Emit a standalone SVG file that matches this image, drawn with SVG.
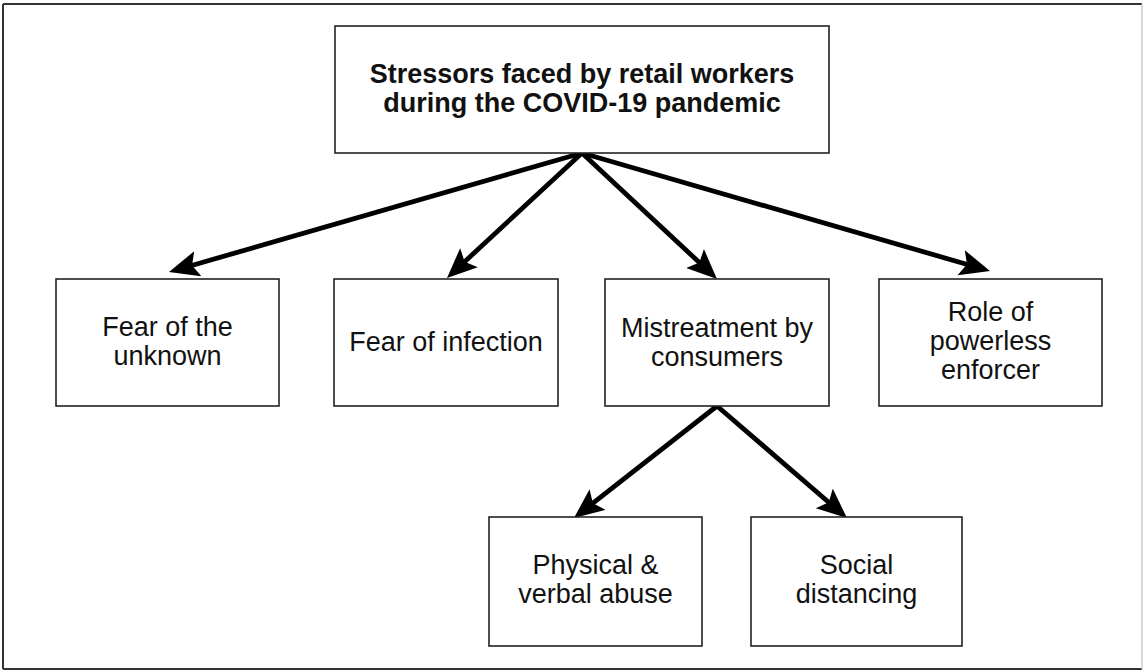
<svg xmlns="http://www.w3.org/2000/svg" width="1144" height="671" viewBox="0 0 1144 671">
  <style>
    .box { fill: #ffffff; stroke: #222222; stroke-width: 1.6; }
    .lbl { font-family: "Liberation Sans", Arial, Helvetica, sans-serif; font-size: 27px; fill: #111111; text-anchor: middle; }
    .title { font-weight: bold; }
    .conn { stroke: #000000; stroke-width: 4.8; fill: none; marker-end: url(#ah); }
  </style>
  <defs>
    <marker id="ah" markerUnits="userSpaceOnUse" markerWidth="32" markerHeight="28" refX="18" refY="13" orient="auto">
      <path d="M0,0 L30,13 L0,26 L6,13 Z" fill="#000000"/>
    </marker>
  </defs>
  <rect x="0" y="0" width="1144" height="671" fill="#ffffff"/>
  <g id="frame">
    <line x1="3" y1="4" x2="1142" y2="4" stroke="#333333" stroke-width="2"/>
    <line x1="3" y1="4" x2="3" y2="669" stroke="#333333" stroke-width="2"/>
    <line x1="3" y1="669" x2="1142" y2="669" stroke="#333333" stroke-width="2"/>
    <line x1="1142" y1="4" x2="1142" y2="669" stroke="#cccccc" stroke-width="1.5"/>
  </g>
  <g id="connectors">
    <line class="conn" x1="582" y1="153" x2="180.5" y2="268.7"/>
    <line class="conn" x1="582" y1="153" x2="455.8" y2="269.9"/>
    <line class="conn" x1="582" y1="153" x2="708.2" y2="270.8"/>
    <line class="conn" x1="582" y1="153" x2="978.5" y2="267.7"/>
    <line class="conn" x1="717" y1="406" x2="583.4" y2="510.6"/>
    <line class="conn" x1="717" y1="406" x2="837.9" y2="510.2"/>
  </g>
  <g id="node-root">
    <rect class="box" x="335" y="26" width="494" height="127"/>
    <text class="lbl title" x="582" y="83">Stressors faced by retail workers</text>
    <text class="lbl title" x="582" y="112">during the COVID-19 pandemic</text>
  </g>
  <g id="node-unknown">
    <rect class="box" x="56" y="279" width="223" height="127"/>
    <text class="lbl" x="167.5" y="336">Fear of the</text>
    <text class="lbl" x="167.5" y="365">unknown</text>
  </g>
  <g id="node-infection">
    <rect class="box" x="334" y="279" width="224" height="127"/>
    <text class="lbl" x="446" y="351">Fear of infection</text>
  </g>
  <g id="node-mistreatment">
    <rect class="box" x="605" y="279" width="224" height="127"/>
    <text class="lbl" x="717" y="337">Mistreatment by</text>
    <text class="lbl" x="717" y="366">consumers</text>
  </g>
  <g id="node-enforcer">
    <rect class="box" x="879" y="279" width="223" height="127"/>
    <text class="lbl" x="990.5" y="321">Role of</text>
    <text class="lbl" x="990.5" y="350">powerless</text>
    <text class="lbl" x="990.5" y="379">enforcer</text>
  </g>
  <g id="node-abuse">
    <rect class="box" x="489" y="517" width="213" height="129"/>
    <text class="lbl" x="595.5" y="574">Physical &amp;</text>
    <text class="lbl" x="595.5" y="603">verbal abuse</text>
  </g>
  <g id="node-distancing">
    <rect class="box" x="751" y="517" width="211" height="129"/>
    <text class="lbl" x="856.5" y="574">Social</text>
    <text class="lbl" x="856.5" y="603">distancing</text>
  </g>
</svg>
